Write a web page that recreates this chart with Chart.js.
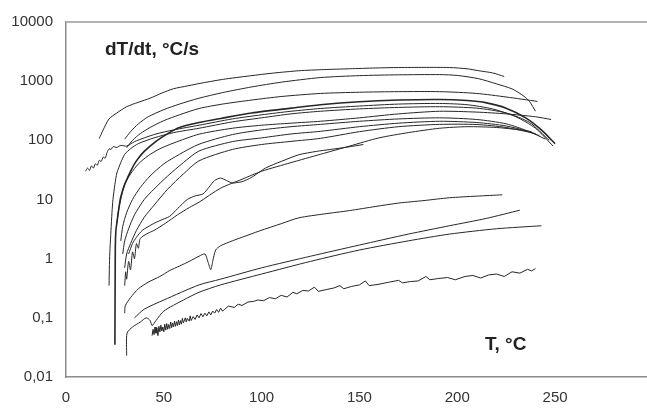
<!DOCTYPE html>
<html>
<head>
<meta charset="utf-8">
<script src="https://cdn.jsdelivr.net/npm/chart.js@4/dist/chart.umd.min.js"></script>
<style>
  html, body { margin: 0; padding: 0; background: #fff; overflow: hidden; }
</style>
</head>
<body>
<canvas id="rateChart" width="647" height="409"></canvas>
<script>
// Heating rate dT/dt (°C/s) vs temperature T (°C), log y axis

// Axis ticks
const xTicks = [0, 50, 100, 150, 200, 250];
const yTicks = [0.01, 0.1, 1, 10, 100, 1000, 10000];
const yTickLabels = ['0,01', '0,1', '1', '10', '100', '1000', '10000'];

// Curves as [T, dT/dt] pairs
const curveTop = [[17,107],[19,150],[22,230],[26,290],[31,370],[37,440],[43,515],[49,630],[55,745],[62,830],[68,910],[80,1070],[94,1230],[106,1370],[119,1500],[132,1570],[145,1620],[158,1670],[170,1700],[183,1710],[196,1700],[205,1620],[211,1500],[218,1380],[224,1200]];
const curveSecond = [[30,105],[33,140],[37,190],[42,250],[50,330],[58,410],[68,515],[80,640],[95,800],[110,960],[130,1150],[150,1240],[170,1280],[191,1290],[200,1250],[211,1100],[220,900],[228,740],[234,560],[237,450],[240,310]];
const curveThird = [[31,75],[34,100],[38,130],[43,165],[50,215],[58,270],[68,345],[80,410],[95,480],[110,550],[130,620],[150,650],[170,665],[191,665],[210,620],[225,540],[241,455]];
const curveDark = [[25,0.035],[25.2,1.5],[25.5,3],[26,4],[27,7],[28,11],[30,18],[33,30],[36,45],[40,65],[46,96],[52,130],[58,165],[68,200],[79,234],[95,290],[115,350],[130,400],[150,450],[170,480],[191,490],[205,470],[215,430],[225,350],[235,240],[243,150],[250,88]];
const curveWiggly = [[10,30],[11,34],[12,31],[13,37],[14,34],[15,40],[16,38],[17,46],[18,44],[19,52],[20,50],[21,62],[22,72],[23,70],[24,78],[26,76],[28,82],[31,80],[35,95],[40,110],[46,128],[55,150],[68,180],[85,230],[100,270],[115,310],[130,345],[150,380],[170,410],[191,420],[205,400],[218,340],[230,250],[240,160],[249,80]];
const curveE3 = [[22,0.35],[22.2,0.8],[22.5,1.5],[23,3],[23.5,6],[24,10],[25,18],[26,28],[28,42],[30,58],[33,72],[37,88],[45,110],[55,135],[68,160],[85,205],[100,240],[115,280],[130,310],[150,340],[170,360],[191,370],[210,350],[225,290],[237,200],[247,100]];
const curveE4 = [[26,4],[27,7],[28.5,12],[30,18],[33,27],[37,40],[42,55],[48,72],[55,90],[68,127],[85,160],[100,180],[115,195],[130,210],[150,240],[170,280],[191,310],[210,300],[225,280],[240,250],[248,225]];
const curveE5 = [[28,2],[29,3.5],[31,6],[34,10],[38,16],[43,25],[50,40],[58,58],[68,86],[85,125],[100,150],[115,170],[130,186],[150,210],[170,230],[191,240],[210,225],[225,190],[237,140],[245,105]];
const curveE6 = [[29,1.2],[30,2],[32,3.2],[35,5.5],[40,10],[45,15],[52,25],[60,42],[68,66],[85,95],[100,110],[115,128],[130,142],[150,170],[170,195],[191,210],[210,200],[225,175],[235,145],[242,120]];
const curveE7 = [[30,0.7],[31,1.2],[33,1.8],[36,3],[40,5],[45,8],[52,15],[60,27],[68,45],[85,70],[100,85],[115,96],[130,108],[150,140],[170,170],[191,186],[210,185],[225,165],[240,130]];
const curveZigzag = [[30,0.35],[30.5,0.6],[31,0.45],[32,0.9],[33,0.65],[34,1.3],[35,1],[36,1.8],[37,1.5],[38,2.2],[42,2.7],[45,3],[51,4],[57,5.5],[63,7.3],[68,9],[79,15.5],[90,22],[100,30],[115,42],[130,58],[145,80],[160,110],[175,135],[191,160],[205,170],[220,165],[232,150],[238,140]];
const curveBump = [[32,1.2],[34,1.8],[36,2.3],[39,3],[44,3.8],[48,4.4],[53,5.2],[57,7],[62,10],[66,11.5],[70,12.4],[73,16],[76,21],[79,23],[82,21],[85,19],[88,19.5],[90,20],[93,22],[96,25],[102,34],[110,44],[119,57],[128,65],[135,70],[144,77],[152,85]];
const curveDip = [[30,0.12],[30.3,0.16],[33,0.22],[37,0.31],[42,0.4],[48,0.5],[53,0.63],[58,0.75],[63,0.9],[68,1.1],[71,1.2],[72.5,0.9],[74,0.65],[75,0.9],[76.5,1.4],[79,1.65],[85,2],[90,2.3],[99,2.95],[110,3.9],[119,4.9],[132,5.7],[145,6.5],[158,7.6],[170,8.7],[183,9.6],[196,10.7],[210,11.4],[223,12]];
const curveLowA = [[35,0.1],[40,0.14],[50,0.2],[68,0.36],[79,0.45],[100,0.7],[125,1.1],[150,1.7],[175,2.6],[196,3.6],[215,4.8],[232,6.6]];
const curveLowB = [[31,0.023],[31.2,0.055],[34,0.07],[38,0.085],[41,0.1],[43,0.09],[44,0.074],[46,0.09],[50,0.13],[60,0.2],[68,0.27],[79,0.36],[100,0.55],[125,0.9],[150,1.4],[175,2],[196,2.6],[220,3.2],[243,3.6]];
const curveNoisy = [[44,0.05],[44.5,0.064],[45,0.052],[45.5,0.07],[46,0.055],[46.5,0.068],[47,0.05],[47.5,0.072],[48,0.058],[48.5,0.075],[49,0.06],[49.5,0.07],[50,0.058],[50.5,0.078],[51,0.062],[51.5,0.08],[52,0.064],[52.5,0.077],[53,0.066],[53.5,0.085],[54,0.068],[54.5,0.082],[55,0.07],[55.5,0.088],[56,0.072],[56.5,0.086],[57,0.074],[57.5,0.092],[58,0.076],[58.5,0.09],[59,0.078],[59.5,0.098],[60,0.082],[61,0.1],[61.5,0.085],[62,0.098],[63,0.088],[63.5,0.108],[64,0.09],[65,0.105],[66,0.094],[67,0.112],[68,0.1],[69,0.118],[70,0.104],[71,0.12],[72,0.108],[73,0.126],[74,0.112],[75,0.13],[76,0.12],[77,0.138],[78,0.124],[79,0.146],[80,0.13],[81,0.138],[83,0.158],[86,0.15],[88,0.17],[90,0.162],[93,0.185],[96,0.19],[98,0.2],[101,0.195],[104,0.22],[107,0.21],[110,0.24],[113,0.225],[116,0.27],[118,0.255],[121,0.29],[124,0.285],[127,0.33],[129,0.28],[133,0.3],[137,0.32],[140,0.35],[142,0.31],[146,0.34],[150,0.36],[153,0.42],[155,0.35],[160,0.37],[165,0.4],[170,0.43],[172,0.39],[176,0.41],[180,0.42],[184,0.5],[186,0.44],[190,0.46],[195,0.48],[199,0.44],[204,0.5],[208,0.52],[212,0.47],[216,0.53],[220,0.55],[224,0.5],[228,0.6],[232,0.57],[236,0.66],[238,0.62],[240,0.68]];

const smoothCurves = [curveTop, curveSecond, curveThird, curveWiggly, curveE3, curveE4, curveE5, curveE6, curveE7, curveZigzag, curveBump, curveDip, curveLowA, curveLowB];
const roughCurves = [curveNoisy];

const FONT = "'Liberation Sans', Arial, sans-serif";

function toPoints(pairs) {
  return pairs.map(p => ({ x: p[0], y: p[1] }));
}

function makeDataset(pairs, width, tension) {
  return {
    data: toPoints(pairs),
    borderColor: '#262626',
    borderWidth: width,
    pointRadius: 0,
    tension: tension,
    fill: false
  };
}

const datasets = [];
smoothCurves.forEach(c => datasets.push(makeDataset(c, 1, 0.25)));
roughCurves.forEach(c => datasets.push(makeDataset(c, 1, 0)));
datasets.push(makeDataset(curveDark, 1.6, 0.25));

// Top frame line and the two bold captions inside the plot
const framePlugin = {
  id: 'frame',
  afterDraw(chart) {
    const { ctx, chartArea } = chart;
    ctx.save();
    ctx.strokeStyle = '#b3b3b3';
    ctx.lineWidth = 2;
    ctx.beginPath();
    ctx.moveTo(chartArea.left, chartArea.top);
    ctx.lineTo(chartArea.right, chartArea.top);
    ctx.stroke();

    ctx.fillStyle = '#222';
    ctx.font = 'bold 19px ' + FONT;
    ctx.textBaseline = 'middle';
    ctx.textAlign = 'left';
    ctx.fillText('dT/dt, °C/s', chartArea.left + 39, chartArea.top + 28);
    ctx.fillText('T, °C', chartArea.left + 419, chartArea.bottom - 32);
    ctx.restore();
  }
};

new Chart(document.getElementById('rateChart'), {
  type: 'line',
  data: { datasets: datasets },
  plugins: [framePlugin],
  options: {
    responsive: false,
    animation: false,
    layout: { padding: { top: 20, right: 0, left: 0, bottom: 0 } },
    plugins: {
      legend: { display: false },
      tooltip: { enabled: false }
    },
    scales: {
      x: {
        type: 'linear',
        min: 0,
        max: 297,
        afterBuildTicks: scale => { scale.ticks = xTicks.map(v => ({ value: v })); },
        afterFit: scale => { scale.height = 32; },
        grid: { display: false, drawTicks: false },
        border: { display: true, color: '#8c8c8c', width: 1.5 },
        ticks: {
          padding: 12,
          color: '#333',
          font: { family: FONT, size: 15 },
          maxRotation: 0
        }
      },
      y: {
        type: 'logarithmic',
        min: 0.01,
        max: 10000,
        afterBuildTicks: scale => { scale.ticks = yTicks.map(v => ({ value: v })); },
        afterFit: scale => { scale.width = 66; },
        grid: { display: false, drawTicks: false },
        border: { display: true, color: '#8c8c8c', width: 1.5 },
        ticks: {
          padding: 13,
          color: '#333',
          font: { family: FONT, size: 15 },
          callback: function(value) {
            const i = yTicks.indexOf(value);
            return i >= 0 ? yTickLabels[i] : '';
          }
        }
      }
    }
  }
});
</script>
</body>
</html>
